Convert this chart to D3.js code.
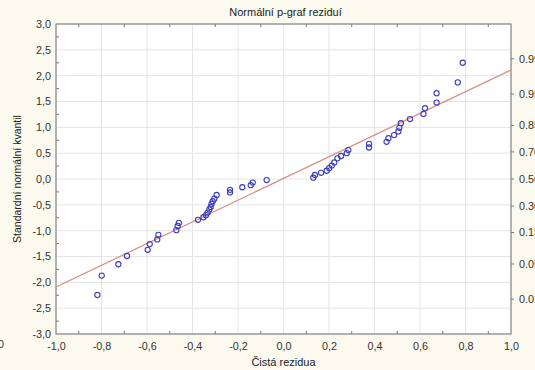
<!DOCTYPE html>
<html>
<head>
<meta charset="utf-8">
<script src="https://cdn.jsdelivr.net/npm/d3@7"></script>
<style>
  body { margin: 0; background: #fcf9ee; }
  svg { display: block; font-family: "Liberation Sans", Arial, sans-serif; }
  .tick text { fill: #333; font-size: 10.8px; }
</style>
</head>
<body>
<div id="chart"></div>
<script>
// residuals (x) and standard normal quantiles (y)
var residuals = [-0.818, -0.799, -0.726, -0.688, -0.597, -0.588, -0.555, -0.550,
  -0.471, -0.465, -0.460, -0.376, -0.352, -0.341, -0.333, -0.326, -0.320, -0.316,
  -0.311, -0.304, -0.294, -0.235, -0.235, -0.181, -0.144, -0.135, -0.074,
  0.131, 0.138, 0.165, 0.190, 0.201, 0.212, 0.223, 0.237, 0.253, 0.278, 0.285,
  0.376, 0.376, 0.453, 0.461, 0.486, 0.505, 0.509, 0.516, 0.556, 0.615, 0.622,
  0.673, 0.673, 0.766, 0.788];
var quantiles = [-2.245, -1.87, -1.65, -1.49, -1.37, -1.26, -1.17, -1.08,
  -0.99, -0.91, -0.85, -0.79, -0.74, -0.70, -0.65, -0.59, -0.54, -0.48,
  -0.43, -0.38, -0.31, -0.26, -0.21, -0.16, -0.12, -0.07, -0.02,
  0.025, 0.077, 0.12, 0.16, 0.21, 0.26, 0.32, 0.40, 0.445, 0.50, 0.56,
  0.61, 0.68, 0.72, 0.79, 0.85, 0.92, 0.99, 1.08, 1.16, 1.26, 1.37,
  1.48, 1.66, 1.87, 2.25];
// fitted line end points
var lineX = [-1.0, 1.0];
var lineY = [-2.09, 2.11];
var xTicks = [-1.0, -0.8, -0.6, -0.4, -0.2, 0.0, 0.2, 0.4, 0.6, 0.8, 1.0];
var yTicks = [-3.0, -2.5, -2.0, -1.5, -1.0, -0.5, 0.0, 0.5, 1.0, 1.5, 2.0, 2.5, 3.0];
var probTicks = [0.01, 0.05, 0.15, 0.30, 0.50, 0.70, 0.85, 0.95, 0.99];

// inverse normal cdf (Acklam approximation) for the probability axis
function invNorm(p) {
  var a = [-39.69683028665376, 220.9460984245205, -275.9285104469687, 138.3577518672690, -30.66479806614716, 2.506628277459239];
  var b = [-54.47609879822406, 161.5858368580409, -155.6989798598866, 66.80131188771972, -13.28068155288572];
  var c = [-0.007784894002430293, -0.3223964580411365, -2.400758277161838, -2.549732539343734, 4.374664141464968, 2.938163982698783];
  var d = [0.007784695709041462, 0.3224671290700398, 2.445134137142996, 3.754408661907416];
  var q, r;
  if (p < 0.02425) {
    q = Math.sqrt(-2 * Math.log(p));
    return (((((c[0]*q+c[1])*q+c[2])*q+c[3])*q+c[4])*q+c[5]) / ((((d[0]*q+d[1])*q+d[2])*q+d[3])*q+1);
  } else if (p > 1 - 0.02425) {
    q = Math.sqrt(-2 * Math.log(1 - p));
    return -(((((c[0]*q+c[1])*q+c[2])*q+c[3])*q+c[4])*q+c[5]) / ((((d[0]*q+d[1])*q+d[2])*q+d[3])*q+1);
  }
  q = p - 0.5; r = q * q;
  return (((((a[0]*r+a[1])*r+a[2])*r+a[3])*r+a[4])*r+a[5])*q / (((((b[0]*r+b[1])*r+b[2])*r+b[3])*r+b[4])*r+1);
}

var width = 535, height = 370;
var margin = {top: 24, right: 24, bottom: 36, left: 56};

var svg = d3.select("#chart").append("svg")
  .attr("width", width)
  .attr("height", height);

var x = d3.scaleLinear().domain([-1, 1]).range([margin.left, width - margin.right]);
var y = d3.scaleLinear().domain([-3, 3]).range([height - margin.bottom, margin.top]);

// plot area
svg.append("rect")
  .attr("x", x(-1)).attr("y", y(3))
  .attr("width", x(1) - x(-1)).attr("height", y(-3) - y(3))
  .attr("fill", "#fff");

// grid
svg.append("g").selectAll("line").data(xTicks).enter().append("line")
  .attr("x1", function(d) { return x(d); }).attr("x2", function(d) { return x(d); })
  .attr("y1", y(3)).attr("y2", y(-3))
  .attr("stroke", "#e4e4e4").attr("stroke-width", 1);
svg.append("g").selectAll("line").data(yTicks).enter().append("line")
  .attr("y1", function(d) { return y(d); }).attr("y2", function(d) { return y(d); })
  .attr("x1", x(-1)).attr("x2", x(1))
  .attr("stroke", "#e4e4e4").attr("stroke-width", 1);

// axes
var fmt = function(d) { return d3.format(".1f")(d).replace(".", ",").replace("−", "-"); };

var xAxis = svg.append("g")
  .attr("transform", "translate(0," + y(-3) + ")")
  .call(d3.axisBottom(x).tickValues(xTicks).tickSize(0).tickPadding(8).tickFormat(fmt));
xAxis.select(".domain").remove();

var yAxis = svg.append("g")
  .attr("transform", "translate(" + x(-1) + ",0)")
  .call(d3.axisLeft(y).tickValues(yTicks).tickSize(0).tickPadding(5).tickFormat(fmt));
yAxis.select(".domain").remove();

// minor ticks inside the frame
var minorX = d3.range(-0.9, 1.0, 0.2);
var minorY = d3.range(-2.75, 3.0, 0.5);
var mt = svg.append("g").attr("stroke", "#777").attr("stroke-width", 1);
minorX.forEach(function(d) {
  mt.append("line").attr("x1", x(d)).attr("x2", x(d)).attr("y1", y(3)).attr("y2", y(3) + 3);
  mt.append("line").attr("x1", x(d)).attr("x2", x(d)).attr("y1", y(-3)).attr("y2", y(-3) - 3);
});
minorY.forEach(function(d) {
  mt.append("line").attr("y1", y(d)).attr("y2", y(d)).attr("x1", x(-1)).attr("x2", x(-1) + 3);
});

// probability axis on the right
var probAxis = svg.append("g")
  .attr("transform", "translate(" + x(1) + ",0)");
probAxis.selectAll("line").data(probTicks).enter().append("line")
  .attr("x1", 0).attr("x2", 3)
  .attr("y1", function(d) { return y(invNorm(d)); })
  .attr("y2", function(d) { return y(invNorm(d)); })
  .attr("stroke", "#777");
probAxis.selectAll("text").data(probTicks).enter().append("text")
  .attr("x", 8)
  .attr("y", function(d) { return y(invNorm(d)); })
  .attr("dy", "0.35em")
  .attr("fill", "#333").style("font-size", "10.8px")
  .text(function(d) { return d3.format(".2f")(d); });

// frame
svg.append("rect")
  .attr("x", x(-1)).attr("y", y(3))
  .attr("width", x(1) - x(-1)).attr("height", y(-3) - y(3))
  .attr("fill", "none").attr("stroke", "#888").attr("stroke-width", 1.2);

// fitted line
svg.append("line")
  .attr("x1", x(lineX[0])).attr("y1", y(lineY[0]))
  .attr("x2", x(lineX[1])).attr("y2", y(lineY[1]))
  .attr("stroke", "#d98f86").attr("stroke-width", 1.3);

// points
svg.append("g").selectAll("circle").data(residuals).enter().append("circle")
  .attr("cx", function(d) { return x(d); })
  .attr("cy", function(d, i) { return y(quantiles[i]); })
  .attr("r", 2.6)
  .attr("fill", "none")
  .attr("stroke", "#3c3cc0")
  .attr("stroke-width", 1.1);

// titles
svg.append("text")
  .attr("x", (x(-1) + x(1)) / 2 + 2).attr("y", 16)
  .attr("text-anchor", "middle").attr("fill", "#222").style("font-size", "11px")
  .text("Normální p-graf reziduí");

svg.append("text")
  .attr("x", (x(-1) + x(1)) / 2).attr("y", 366)
  .attr("text-anchor", "middle").attr("fill", "#222").style("font-size", "11px")
  .text("Čistá rezidua");

svg.append("text")
  .attr("transform", "translate(21," + y(0) + ") rotate(-90)")
  .attr("text-anchor", "middle").attr("fill", "#222").style("font-size", "10.5px")
  .text("Standardní normální kvantil");

// stray clipped label at the left edge
svg.append("text")
  .attr("x", -2).attr("y", 348)
  .attr("fill", "#333").style("font-size", "10.8px")
  .text("0");
</script>
</body>
</html>
